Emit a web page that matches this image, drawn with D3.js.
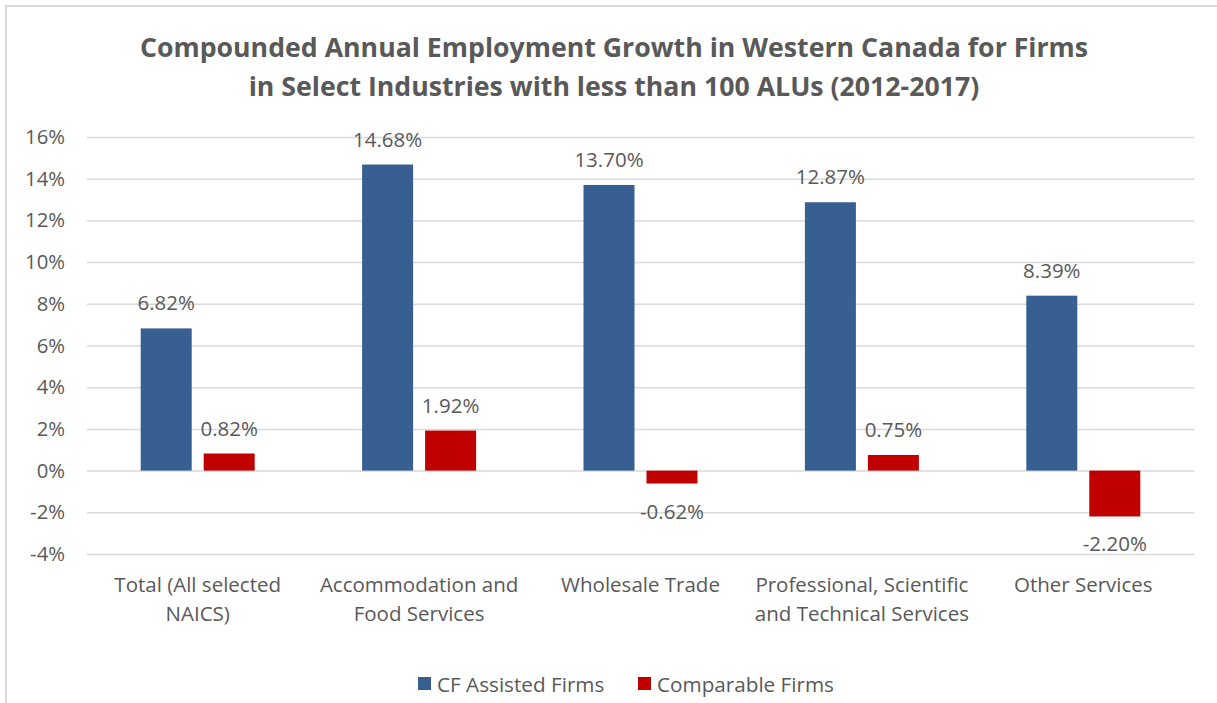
<!DOCTYPE html>
<html>
<head>
<meta charset="utf-8">
<script src="https://cdn.jsdelivr.net/npm/d3@7"></script>
<style>
  body { margin:0; background:#fff; }
  text { font-family:"Open Sans", sans-serif; fill:#595959; }
</style>
</head>
<body>
<svg class="one"></svg>
<script>
var categories = [
  ["Total (All selected", "NAICS)"],
  ["Accommodation and", "Food Services"],
  ["Wholesale Trade"],
  ["Professional, Scientific", "and Technical Services"],
  ["Other Services"]
];
var cfAssisted = [6.82, 14.68, 13.70, 12.87, 8.39];
var comparable = [0.82, 1.92, -0.62, 0.75, -2.20];
var seriesNames = ["CF Assisted Firms", "Comparable Firms"];
var yTicks = [-4, -2, 0, 2, 4, 6, 8, 10, 12, 14, 16];
var titleLines = ["Compounded Annual Employment Growth in Western Canada for Firms",
                  "in Select Industries with less than 100 ALUs (2012-2017)"];

var colors = ["#375F92", "#C00000"];

var svgwidth = 1217, svgheight = 703;
var svg = d3.select('.one').attr('width', svgwidth).attr('height', svgheight);

// frame (only top and left edge visible)
svg.append('line').attr('x1',5).attr('x2',svgwidth).attr('y1',6).attr('y2',6)
   .attr('stroke','#d9d9d9').attr('stroke-width',2);
svg.append('line').attr('x1',6).attr('x2',6).attr('y1',5).attr('y2',svgheight)
   .attr('stroke','#d9d9d9').attr('stroke-width',2);

// title
svg.selectAll('.title').data(titleLines).enter()
   .append('text').classed('title',true)
   .attr('x',614).attr('y',function(d,i){ return 57 + i*39; })
   .attr('text-anchor','middle')
   .style('font-weight','bold').style('font-size','26.7px')
   .text(function(d){ return d; });

var xScale = d3.scaleBand()
               .domain(d3.range(categories.length))
               .range([87,1194]);

var yScale = d3.scaleLinear()
               .domain([-4,16])
               .range([554,137]);

// gridlines + tick labels
var yAxis = d3.axisLeft(yScale).tickValues(yTicks)
              .tickSize(-(1194-87)).tickPadding(22)
              .tickFormat(function(d){ return d + '%'; });

var yg = svg.append('g').classed('yAxis',true)
            .attr('transform','translate(87,0)')
            .call(yAxis);
yg.select('.domain').remove();
yg.selectAll('line').attr('stroke','#d9d9d9').attr('stroke-width',1.5);
yg.selectAll('text').style('font-size','20.3px').attr('fill','#595959')
  .style('font-family','"Open Sans", sans-serif');

var barW = 51, gap = 6;

var groups = svg.selectAll('.cat').data(categories).enter()
   .append('g').classed('cat',true);

var seriesData = [cfAssisted, comparable];

seriesData.forEach(function(vals, s){
  svg.selectAll('.bar'+s).data(vals).enter()
     .append('rect').classed('bar'+s,true)
     .attr('x',function(d,i){
       var c = xScale(i) + xScale.bandwidth()/2;
       return s === 0 ? c - gap - barW : c + gap;
     })
     .attr('y',function(d){ return yScale(Math.max(0,d)); })
     .attr('width',barW)
     .attr('height',function(d){ return Math.abs(yScale(d) - yScale(0)); })
     .attr('fill',colors[s]);

  svg.selectAll('.lbl'+s).data(vals).enter()
     .append('text').classed('lbl'+s,true)
     .attr('x',function(d,i){
       var c = xScale(i) + xScale.bandwidth()/2;
       return s === 0 ? c - gap - barW/2 : c + gap + barW/2;
     })
     .attr('y',function(d){
       return d >= 0 ? yScale(d) - 18 : yScale(d) + 35;
     })
     .attr('text-anchor','middle')
     .style('font-size','20.5px')
     .attr('fill','#404040')
     .text(function(d){ return d.toFixed(2) + '%'; });
});

// category labels
groups.each(function(lines, i){
  var g = d3.select(this);
  g.selectAll('text').data(lines).enter()
   .append('text')
   .attr('x', xScale(i) + xScale.bandwidth()/2)
   .attr('y', function(d,j){ return 592 + j*29; })
   .attr('text-anchor','middle')
   .style('font-size','20.5px')
   .text(function(d){ return d; });
});

// legend
var legendX = [418, 638];
var legend = svg.selectAll('.legend').data(seriesNames).enter()
   .append('g').classed('legend',true)
   .attr('transform',function(d,i){ return 'translate('+legendX[i]+',0)'; });
legend.append('rect').attr('x',0).attr('y',677).attr('width',13).attr('height',13)
   .attr('fill',function(d,i){ return colors[i]; });
legend.append('text').attr('x',19).attr('y',692)
   .style('font-size','20.7px')
   .text(function(d){ return d; });
</script>
</body>
</html>
